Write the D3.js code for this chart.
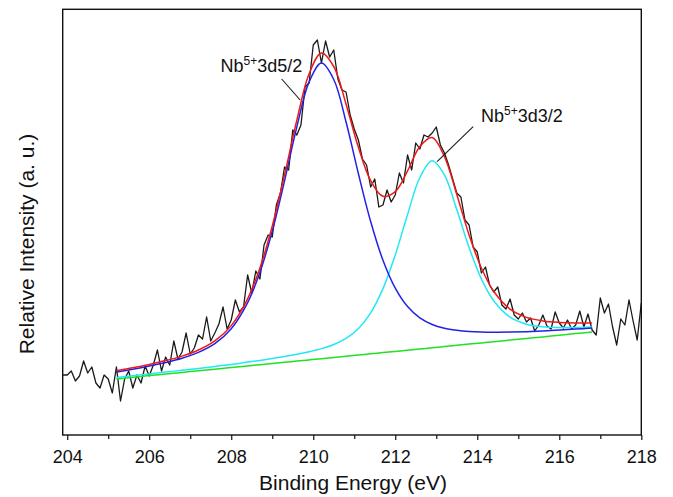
<!DOCTYPE html>
<html><head><meta charset="utf-8">
<script src="https://cdn.jsdelivr.net/npm/d3@7/dist/d3.min.js"></script>
<style>body{margin:0;background:#fff}svg text{font-family:"Liberation Sans",Arial,Helvetica,sans-serif;fill:#111}</style>
</head><body><svg id="chart" width="673" height="497"></svg>
<script>
// ---- data ----
const rawEnergy = [203.9,204.0,204.1,204.2,204.3,204.4,204.5,204.6,204.7,204.8,204.9,205.0,205.1,205.2,205.3,205.4,205.5,205.6,205.7,205.8,205.9,206.0,206.1,206.2,206.3,206.4,206.5,206.6,206.7,206.8,206.9,207.0,207.1,207.2,207.3,207.4,207.5,207.6,207.7,207.8,207.9,208.0,208.1,208.2,208.3,208.4,208.5,208.6,208.7,208.8,208.9,209.0,209.1,209.2,209.3,209.4,209.5,209.6,209.7,209.8,209.9,210.0,210.1,210.2,210.3,210.4,210.5,210.6,210.7,210.8,210.9,211.0,211.1,211.2,211.3,211.4,211.5,211.6,211.7,211.8,211.9,212.0,212.1,212.2,212.3,212.4,212.5,212.6,212.7,212.8,212.9,213.0,213.1,213.2,213.3,213.4,213.5,213.6,213.7,213.8,213.9,214.0,214.1,214.2,214.3,214.4,214.5,214.6,214.7,214.8,214.9,215.0,215.1,215.2,215.3,215.4,215.5,215.6,215.7,215.8,215.9,216.0,216.1,216.2,216.3,216.4,216.5,216.6,216.7,216.8,216.9,217.0,217.1,217.2,217.3,217.4,217.5,217.6,217.7,217.8,217.9,218.0];
const rawCounts = [600,600,640,540,590,740,620,680,520,470,600,560,420,680,340,560,640,470,600,520,690,590,700,850,640,780,700,940,760,830,1020,810,870,1000,960,1180,940,1020,1110,1280,1060,1150,1350,1230,1280,1600,1420,1640,1560,1900,2000,1980,2300,2420,2680,2650,3050,3000,3100,3480,3520,3900,3950,3720,3940,3780,3850,3560,3450,3430,3200,3060,2950,2760,2700,2480,2560,2280,2300,2450,2330,2400,2620,2520,2800,2650,2920,2860,3000,2980,3020,3080,2900,2820,2700,2560,2420,2380,2150,2100,1880,1830,1620,1680,1500,1430,1480,1300,1260,1360,1200,1160,1220,1130,1170,1040,1100,1200,1090,1060,1230,1120,1070,1150,1060,1100,1240,1080,1210,1050,1000,1370,1220,1310,1080,900,1160,1100,1350,1140,950,1320];

const fitEnergy = [205.2,205.6,206.0,206.4,206.8,207.2,207.6,208.0,208.4,208.7,209.0,209.3,209.6,209.9,210.2,210.5,210.8,211.1,211.4,211.7,212.0,212.3,212.6,212.9,213.2,213.5,213.8,214.1,214.4,214.8,215.2,215.6,216.0,216.4,216.8];
const background = [561,577,594,610,626,642,658,674,691,703,715,727,739,751,763,775,788,800,812,824,836,848,860,872,884,897,909,921,933,949,965,981,998,1014,1030];
const peakNb52 = [629,657,689,725,768,826,913,1062,1324,1627,2038,2542,3081,3531,3719,3555,3130,2615,2135,1748,1469,1284,1171,1105,1068,1048,1036,1030,1028,1029,1033,1040,1049,1059,1070];
const peakNb32 = [574,592,611,629,647,666,686,706,729,746,765,785,807,833,864,905,966,1063,1221,1464,1801,2205,2575,2742,2599,2254,1874,1561,1342,1178,1108,1082,1075,1075,1080];
const envelope = [642,672,706,744,789,850,941,1094,1362,1670,2088,2600,3149,3613,3820,3685,3308,2878,2544,2388,2434,2641,2886,2975,2783,2405,2001,1670,1437,1258,1176,1141,1126,1120,1120];

const xTicks = [204,206,208,210,212,214,216,218];
const xMinorTicks = [205,207,209,211,213,215,217];
const xDomain = [203.89, 218];
const yDomain = [0, 4257];

// annotations: label text, label anchor (energy, counts), leader line from/to
const labels = [
  {main:"Nb", sup:"5+", tail:"3d5/2", e:207.74, c:3630, line:[[209.23,3560],[209.68,3350]]},
  {main:"Nb", sup:"5+", tail:"3d3/2", e:214.09, c:3127, line:[[213.90,3083],[213.02,2733]]}
];

// ---- layout ----
const margin = {left:62.7, right:673-641.3, top:9.3, bottom:497-435};
const W = 673, H = 497;
const svg = d3.select("#chart");
const x = d3.scaleLinear().domain(xDomain).range([margin.left, W - margin.right]);
const y = d3.scaleLinear().domain(yDomain).range([H - margin.bottom, margin.top]);

const fitLine = d3.line().x(d => x(d[0])).y(d => y(d[1])).curve(d3.curveCatmullRom.alpha(0.5));
const rawLine = d3.line().x(d => x(d[0])).y(d => y(d[1]));

const g = svg.append("g");
g.append("path").datum(rawEnergy.map((e,i)=>[e, rawCounts[i]]))
  .attr("d", rawLine).attr("fill","none").attr("stroke","#1a1a1a").attr("stroke-width",1.3).attr("stroke-linejoin","round");

const series = [
  {v:background, color:"#22e022"},
  {v:peakNb32, color:"#22e8f5"},
  {v:peakNb52, color:"#2222e6"},
  {v:envelope, color:"#f01818"}
];
series.forEach(s => {
  g.append("path").datum(fitEnergy.map((e,i)=>[e, s.v[i]]))
    .attr("d", fitLine).attr("fill","none").attr("stroke", s.color).attr("stroke-width",1.5);
});

// annotations
labels.forEach(l => {
  const t = svg.append("text").attr("x", x(l.e)).attr("y", y(l.c)).attr("font-size", 18);
  t.append("tspan").text(l.main);
  t.append("tspan").attr("font-size", 12).attr("dy", -7).text(l.sup);
  t.append("tspan").attr("dy", 7).text(l.tail);
  svg.append("line").attr("x1", x(l.line[0][0])).attr("y1", y(l.line[0][1]))
    .attr("x2", x(l.line[1][0])).attr("y2", y(l.line[1][1]))
    .attr("stroke","#1a1a1a").attr("stroke-width",1.1);
});

// frame
svg.append("rect").attr("x", margin.left).attr("y", margin.top)
  .attr("width", W - margin.right - margin.left).attr("height", H - margin.bottom - margin.top)
  .attr("fill","none").attr("stroke","#111").attr("stroke-width",1.4);

// x axis
const xAxis = d3.axisBottom(x).tickValues(xTicks).tickSize(5).tickPadding(10).tickFormat(d3.format("d"));
const ax = svg.append("g").attr("transform", `translate(0,${H - margin.bottom})`).call(xAxis);
ax.select(".domain").remove();
ax.selectAll(".tick line").attr("stroke","#111").attr("stroke-width",1.2);
ax.selectAll(".tick text").attr("font-size", 18).attr("font-family", null).attr("fill","#111");
const axMinor = d3.axisBottom(x).tickValues(xMinorTicks).tickSize(4).tickFormat("");
const am = svg.append("g").attr("transform", `translate(0,${H - margin.bottom})`).call(axMinor);
am.select(".domain").remove();
am.selectAll(".tick line").attr("stroke","#111").attr("stroke-width",1.2);

// titles
svg.append("text").attr("x", (margin.left + W - margin.right)/2 + 1).attr("y", 490)
  .attr("text-anchor","middle").attr("font-size", 21).text("Binding Energy (eV)");
svg.append("text").attr("transform", "translate(34,244) rotate(-90)")
  .attr("text-anchor","middle").attr("font-size", 21).text("Relative Intensity (a. u.)");
</script></body></html>
